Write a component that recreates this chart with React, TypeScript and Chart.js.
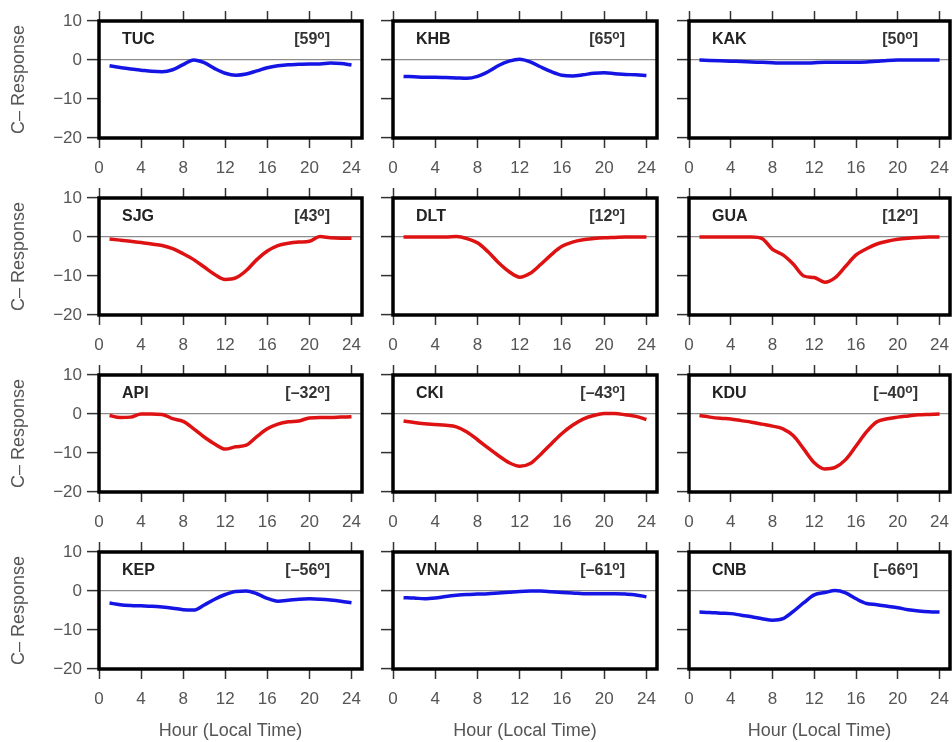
import React, { useEffect, useRef } from "react";
import { Chart, registerables } from "chart.js";

Chart.register(...registerables);

// ---------- data ----------
const hours = [1, 2, 3, 4, 5, 6, 7, 8, 9, 10, 11, 12, 13, 14, 15, 16, 17, 18, 19, 20, 21, 22, 23, 24];
const xTicks = [0, 4, 8, 12, 16, 20, 24];
const xTickLabels = ["0", "4", "8", "12", "16", "20", "24"];
const yTicks = [10, 0, -10, -20];
const yTickLabels = ["10", "0", "\u221210", "\u221220"];

const stations = ["TUC", "KHB", "KAK", "SJG", "DLT", "GUA", "API", "CKI", "KDU", "KEP", "VNA", "CNB"];
const latitudes = ["59", "65", "50", "43", "12", "12", "\u201332", "\u201343", "\u201340", "\u201356", "\u201361", "\u201366"];
const seriesKinds = ["blue", "blue", "blue", "red", "red", "red", "red", "red", "red", "blue", "blue", "blue"];

const TUC = [-1.5, -1.9, -2.3, -2.6, -2.9, -3.0, -2.5, -1.2, 0.0, -0.7, -2.2, -3.4, -3.9, -3.6, -2.8, -2.0, -1.5, -1.2, -1.1, -1.0, -1.0, -0.8, -0.9, -1.3];
const KHB = [-4.2, -4.3, -4.4, -4.4, -4.5, -4.6, -4.7, -4.2, -3.0, -1.4, -0.3, 0.2, -0.5, -1.8, -3.0, -3.9, -4.1, -3.8, -3.4, -3.3, -3.5, -3.7, -3.8, -4.0];
const KAK = [0.0, -0.1, -0.2, -0.3, -0.4, -0.5, -0.6, -0.7, -0.8, -0.8, -0.8, -0.7, -0.6, -0.6, -0.6, -0.6, -0.5, -0.3, -0.1, 0.0, 0.0, 0.0, 0.0, 0.0];
const SJG = [-0.5, -0.8, -1.1, -1.4, -1.8, -2.2, -3.0, -4.3, -5.8, -7.7, -9.6, -10.9, -10.5, -8.6, -5.8, -3.6, -2.2, -1.6, -1.3, -1.1, 0.1, -0.2, -0.3, -0.3];
const DLT = [0.0, 0.0, 0.0, 0.0, 0.0, 0.1, -0.4, -1.5, -3.8, -6.6, -8.9, -10.3, -9.3, -7.0, -4.5, -2.4, -1.3, -0.7, -0.4, -0.2, -0.1, 0.0, 0.0, 0.0];
const GUA = [0.0, 0.0, 0.0, 0.0, 0.0, 0.0, -0.4, -3.2, -4.6, -7.0, -10.0, -10.4, -11.6, -10.4, -7.5, -4.6, -3.0, -1.8, -1.1, -0.6, -0.3, -0.1, 0.0, 0.0];
const API = [-0.4, -0.9, -0.8, 0.0, 0.0, -0.1, -1.2, -1.9, -3.8, -5.9, -7.7, -9.0, -8.4, -8.0, -5.8, -3.8, -2.6, -2.0, -1.8, -1.0, -0.9, -0.9, -0.8, -0.7];
const CKI = [-1.8, -2.2, -2.5, -2.7, -2.9, -3.3, -4.6, -6.6, -8.7, -10.7, -12.5, -13.4, -12.7, -10.3, -7.6, -5.0, -2.9, -1.3, -0.4, 0.1, 0.1, -0.2, -0.6, -1.4];
const KDU = [-0.4, -0.8, -1.1, -1.3, -1.7, -2.1, -2.6, -3.1, -3.8, -5.6, -9.0, -12.5, -14.1, -13.7, -11.7, -8.2, -4.6, -2.0, -1.2, -0.8, -0.5, -0.2, -0.1, 0.0];
const KEP = [-3.1, -3.5, -3.7, -3.8, -3.9, -4.1, -4.4, -4.8, -4.9, -3.6, -2.1, -0.9, -0.1, 0.0, -0.7, -1.9, -2.6, -2.4, -2.1, -2.0, -2.1, -2.3, -2.6, -3.0];
const VNA = [-1.7, -1.8, -2.0, -1.8, -1.4, -1.1, -0.9, -0.8, -0.7, -0.5, -0.3, -0.1, 0.0, 0.0, -0.2, -0.4, -0.5, -0.7, -0.7, -0.7, -0.7, -0.8, -1.0, -1.5];
const CNB = [-5.4, -5.5, -5.7, -5.8, -6.2, -6.6, -7.1, -7.5, -7.1, -5.2, -3.0, -1.0, -0.4, 0.1, -0.5, -2.0, -3.2, -3.5, -3.9, -4.3, -4.8, -5.1, -5.3, -5.4];

const seriesValues = [TUC, KHB, KAK, SJG, DLT, GUA, API, CKI, KDU, KEP, VNA, CNB];

// ---------- layout / style ----------
const FONT = "'Liberation Sans', Arial, Helvetica, sans-serif";
const colLeft = [99, 393, 689];
const colRight = [362, 657, 950];
const rowTop = [21, 198, 375, 552];
const PLOT_H = 117;
const TOP_SPACE = 16;
const PAD_RIGHT = 14;
const LINE_COLORS: Record<string, string> = { blue: "#1414e4", red: "#de1212" };

Chart.defaults.font.family = FONT;

const framePlugin = {
  id: "frame",
  afterDatasetsDraw(chart: any) {
    const { ctx, chartArea } = chart;
    const { left, top, right, bottom } = chartArea;
    ctx.save();
    ctx.strokeStyle = "#000";
    ctx.lineWidth = 3.5;
    ctx.strokeRect(left, top, right - left, bottom - top);
    ctx.restore();
  },
};

function Panel({ index }: { index: number }) {
  const ref = useRef<HTMLCanvasElement | null>(null);
  const r = Math.floor(index / 3);
  const c = index % 3;
  const plotLeft = colLeft[c];
  const plotRight = colRight[c];
  const plotTop = rowTop[r];
  const plotBottom = plotTop + PLOT_H;
  const leftSpace = c === 0 ? 99 : 30;
  const bottomSpace = r === 3 ? 742 - plotBottom : 40;
  const cLeft = plotLeft - leftSpace;
  const cTop = plotTop - TOP_SPACE;
  const cWidth = plotRight + PAD_RIGHT - cLeft;
  const cHeight = TOP_SPACE + PLOT_H + bottomSpace;

  useEffect(() => {
    if (!ref.current) return;
    const vals = seriesValues[index];
    const setX = (s: any) => {
      s.ticks = xTicks.map((v) => ({ value: v }));
    };
    const tickGrid = {
      drawOnChartArea: false,
      drawTicks: true,
      tickLength: 10,
      tickColor: "#333",
      tickWidth: 1.5,
    };
    const chart = new Chart(ref.current, {
      type: "line",
      data: {
        datasets: [
          {
            data: hours.map((h, i) => ({ x: h, y: vals[i] })),
            borderColor: LINE_COLORS[seriesKinds[index]],
            borderWidth: 3.5,
            pointRadius: 0,
            tension: 0.4,
            cubicInterpolationMode: "monotone",
            fill: false,
          } as any,
        ],
      },
      options: {
        animation: false,
        responsive: false,
        maintainAspectRatio: false,
        layout: { padding: { left: 0, top: 0, right: PAD_RIGHT, bottom: 0 } },
        plugins: { legend: { display: false }, tooltip: { enabled: false } },
        scales: {
          x: {
            type: "linear",
            position: "bottom",
            min: 0,
            max: 25,
            afterBuildTicks: setX,
            afterFit: (s: any) => {
              s.height = bottomSpace;
            },
            grid: tickGrid,
            border: { display: false },
            ticks: {
              color: "#555",
              font: { size: 17, family: FONT },
              padding: 10,
              maxRotation: 0,
              autoSkip: false,
              callback: (v: any) => xTickLabels[xTicks.indexOf(Number(v))],
            },
            title: {
              display: r === 3,
              text: "Hour (Local Time)",
              color: "#555",
              font: { size: 18, family: FONT },
              padding: { top: 0, bottom: 0 },
            },
          },
          x2: {
            type: "linear",
            position: "top",
            min: 0,
            max: 25,
            afterBuildTicks: setX,
            afterFit: (s: any) => {
              s.height = TOP_SPACE;
            },
            grid: tickGrid,
            border: { display: false },
            ticks: { display: false },
          },
          y: {
            type: "linear",
            position: "left",
            min: -20,
            max: 10,
            afterBuildTicks: (s: any) => {
              s.ticks = yTicks.map((v) => ({ value: v }));
            },
            afterFit: (s: any) => {
              s.width = leftSpace;
            },
            grid: {
              drawOnChartArea: true,
              drawTicks: true,
              tickLength: 12,
              tickColor: "#333",
              tickWidth: 1.5,
              lineWidth: 1.2,
              color: (ctx: any) => (ctx.tick && ctx.tick.value === 0 ? "#8c8c8c" : "rgba(0,0,0,0)"),
            },
            border: { display: false },
            ticks: {
              display: c === 0,
              color: "#555",
              font: { size: 17, family: FONT },
              padding: 5,
              callback: (v: any) => yTickLabels[yTicks.indexOf(Number(v))],
            },
            title: {
              display: c === 0,
              text: "C\u2013 Response",
              color: "#555",
              font: { size: 18, family: FONT },
              padding: { top: 8, bottom: 0 },
            },
          },
        },
      } as any,
      plugins: [framePlugin],
    });
    return () => chart.destroy();
  }, [index]);

  return (
    <>
      <canvas
        ref={ref}
        width={cWidth}
        height={cHeight}
        style={{ position: "absolute", left: cLeft, top: cTop, width: cWidth, height: cHeight }}
      />
      <div
        style={{
          position: "absolute",
          left: plotLeft + 23,
          top: plotTop + 9,
          font: `bold 16px ${FONT}`,
          lineHeight: "17px",
          color: "#222",
        }}
      >
        {stations[index]}
      </div>
      <div
        style={{
          position: "absolute",
          left: plotRight - 32 - 120,
          width: 120,
          textAlign: "right",
          top: plotTop + 9,
          font: `bold 16px ${FONT}`,
          lineHeight: "17px",
          color: "#333",
          whiteSpace: "nowrap",
        }}
      >
        [{latitudes[index]}
        <span style={{ fontSize: 12, position: "relative", top: -5 }}>o</span>]
      </div>
    </>
  );
}

export default function App() {
  return (
    <div
      style={{
        position: "absolute",
        left: 0,
        top: 0,
        width: 952,
        height: 742,
        overflow: "hidden",
        background: "#fff",
      }}
    >
      {stations.map((_, i) => (
        <Panel key={i} index={i} />
      ))}
    </div>
  );
}
